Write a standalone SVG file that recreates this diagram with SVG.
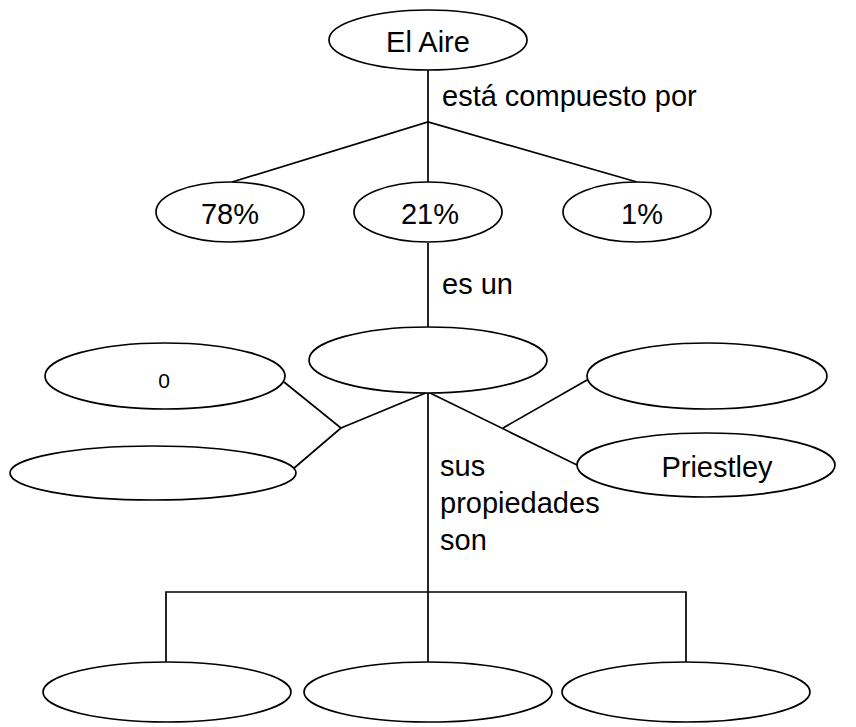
<svg xmlns="http://www.w3.org/2000/svg" width="856" height="727" viewBox="0 0 856 727">
<style>
.n{fill:#fff;stroke:#000;stroke-width:1.7}
.t{font-family:"Liberation Sans",Arial,sans-serif;font-size:29px;fill:#000}
.m{text-anchor:middle}
.c{fill:none;stroke:#000;stroke-width:1.7}
</style>
<rect width="856" height="727" fill="#fff"/>
<g id="connectors">
<line class="c" x1="428" y1="70" x2="428" y2="182"/>
<polyline class="c" points="232,182 428,122 637,182"/>
<line class="c" x1="428" y1="243" x2="428" y2="327"/>
<polyline class="c" points="284,382 341,428 293,469"/>
<line class="c" x1="341" y1="428" x2="428" y2="392"/>
<line class="c" x1="428" y1="392" x2="577" y2="465"/>
<line class="c" x1="503" y1="428" x2="587" y2="380"/>
<line class="c" x1="428" y1="392" x2="428" y2="662"/>
<polyline class="c" points="166,662 166,592 686,592 686,662"/>
<text class="t" x="442" y="106">está compuesto por</text>
<text class="t" x="442" y="294">es un</text>
<text class="t" x="440" y="476">sus</text>
<text class="t" x="440" y="513">propiedades</text>
<text class="t" x="440" y="550">son</text>
</g>
<g id="aire"><ellipse class="n" cx="428" cy="40" rx="99" ry="30"/><text class="t m" x="428" y="52">El Aire</text></g>
<g id="p78"><ellipse class="n" cx="230" cy="212" rx="74" ry="30"/><text class="t m" x="230" y="224">78%</text></g>
<g id="p21"><ellipse class="n" cx="428" cy="212" rx="74" ry="30"/><text class="t m" x="430" y="224">21%</text></g>
<g id="p1"><ellipse class="n" cx="637" cy="212" rx="74" ry="30"/><text class="t m" x="642" y="224">1%</text></g>
<g id="central"><ellipse class="n" cx="428" cy="360" rx="119" ry="33"/></g>
<g id="cero"><ellipse class="n" cx="165" cy="376" rx="120" ry="33"/><text class="t m" x="164" y="388" style="font-size:21px">0</text></g>
<g id="izq"><ellipse class="n" cx="153" cy="473" rx="143" ry="27"/></g>
<g id="der"><ellipse class="n" cx="707" cy="376" rx="120" ry="33"/></g>
<g id="priestley"><ellipse class="n" cx="706" cy="465" rx="129" ry="32"/><text class="t m" x="717" y="477">Priestley</text></g>
<g id="prop1"><ellipse class="n" cx="167" cy="692" rx="124" ry="30"/></g>
<g id="prop2"><ellipse class="n" cx="428" cy="692" rx="124" ry="30"/></g>
<g id="prop3"><ellipse class="n" cx="686" cy="692" rx="124" ry="30"/></g>
</svg>
